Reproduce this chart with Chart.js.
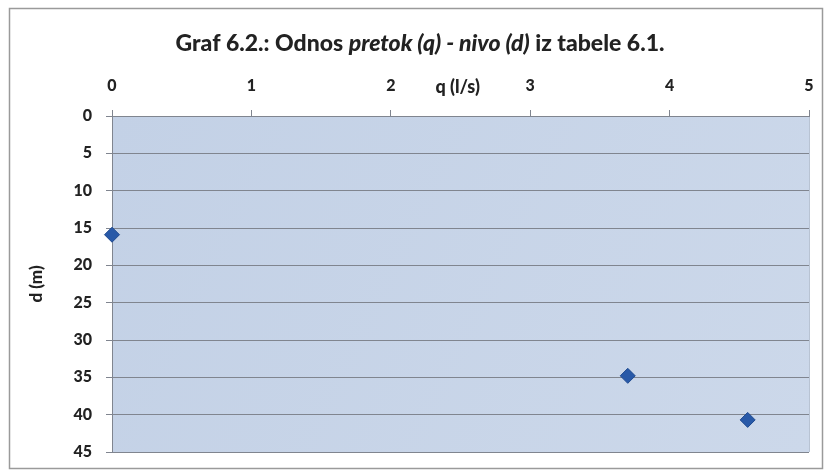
<!DOCTYPE html>
<html>
<head>
<meta charset="utf-8">
<script src="https://cdn.jsdelivr.net/npm/chart.js@4/dist/chart.umd.min.js"></script>
<style>
html,body{margin:0;padding:0;background:#fff;}
#wrap{width:827px;height:472px;position:relative;}
</style>
</head>
<body>
<div id="wrap"><canvas id="c" width="827" height="472"></canvas></div>
<script>
// Data
const qValues = [0, 3.70, 4.56];       // q (l/s)
const dValues = [15.9, 34.8, 40.7];    // d (m)
const xTicks = [0, 1, 2, 3, 4, 5];
const yTicks = [0, 5, 10, 15, 20, 25, 30, 35, 40, 45];
const titleParts = [
  {text: 'Graf 6.2.: Odnos ', italic: false},
  {text: 'pretok (q) - nivo (d)', italic: true},
  {text: ' iz tabele 6.1.', italic: false}
];
const xTitle = 'q (l/s)';
const yTitle = 'd (m)';

const FONT = 'Lato, "Open Sans", sans-serif';

const decor = {
  id: 'decor',
  beforeDraw(chart) {
    const ctx = chart.ctx;
    const a = chart.chartArea;
    ctx.save();
    ctx.fillStyle = '#ffffff';
    ctx.fillRect(0, 0, chart.width, chart.height);
    ctx.strokeStyle = '#9a9a9a';
    ctx.lineWidth = 1.5;
    ctx.strokeRect(9.5, 8.5, 813, 460);
    const g = ctx.createLinearGradient(a.left, a.top, a.right, a.bottom);
    g.addColorStop(0, '#c3d1e6');
    g.addColorStop(1, '#ccd8ea');
    ctx.fillStyle = g;
    ctx.fillRect(a.left, a.top, a.right - a.left, a.bottom - a.top);
    ctx.strokeStyle = '#b8c3d3';
    ctx.lineWidth = 1;
    ctx.beginPath();
    ctx.moveTo(a.right + 0.5, a.top);
    ctx.lineTo(a.right + 0.5, a.bottom);
    ctx.stroke();
    ctx.restore();
  },
  afterDraw(chart) {
    const ctx = chart.ctx;
    ctx.save();
    // Title with mixed styles
    const size = 23;
    let total = 0;
    const widths = titleParts.map(p => {
      ctx.font = (p.italic ? 'italic ' : '') + '900 ' + size + 'px ' + FONT;
      const w = ctx.measureText(p.text).width;
      total += w;
      return w;
    });
    let x = 420 - total / 2;
    ctx.fillStyle = '#222';
    ctx.textBaseline = 'middle';
    ctx.textAlign = 'left';
    titleParts.forEach((p, i) => {
      ctx.font = (p.italic ? 'italic ' : '') + '900 ' + size + 'px ' + FONT;
      ctx.fillText(p.text, x, 44);
      x += widths[i];
    });
    // x axis title, inline with tick labels
    const xs = chart.scales.x;
    ctx.font = '900 18px ' + FONT;
    ctx.textAlign = 'center';
    ctx.fillText(xTitle, xs.getPixelForValue(2.48), 87);
    ctx.restore();
  }
};

new Chart(document.getElementById('c'), {
  type: 'scatter',
  data: {
    datasets: [{
      data: qValues.map((q, i) => ({x: q, y: dValues[i]})),
      pointStyle: 'rectRot',
      pointRadius: 7.5,
      pointHoverRadius: 7.5,
      backgroundColor: '#2859a8',
      borderColor: '#1f4a90',
      borderWidth: 1,
      clip: false
    }]
  },
  options: {
    responsive: false,
    animation: false,
    layout: {padding: {left: 10, right: 18, top: 10, bottom: 20}},
    plugins: {legend: {display: false}, title: {display: false}, tooltip: {enabled: false}},
    scales: {
      x: {
        type: 'linear',
        position: 'top',
        min: 0, max: 5,
        afterBuildTicks(s) { s.ticks = xTicks.map(v => ({value: v})); },
        afterFit(s) { s.height = 106; s.paddingLeft = 0; s.paddingRight = 0; },
        ticks: {color: '#222', font: {family: FONT, size: 16, weight: '900'}, padding: 15, maxRotation: 0},
        grid: {drawOnChartArea: false, drawTicks: true, tickLength: 6, color: '#80858f'},
        border: {display: true, color: '#80858f'}
      },
      y: {
        type: 'linear',
        reverse: true,
        min: 0, max: 45,
        afterBuildTicks(s) { s.ticks = yTicks.map(v => ({value: v})); },
        afterFit(s) { s.width = 102; s.paddingTop = 0; s.paddingBottom = 0; },
        ticks: {color: '#222', font: {family: FONT, size: 16, weight: '900'}, padding: 14},
        grid: {color: '#80858f', lineWidth: 1, tickLength: 6},
        border: {display: true, color: '#80858f'},
        title: {display: true, text: yTitle, color: '#222', font: {family: FONT, size: 17, weight: '900'}, padding: {top: 16, bottom: 0}}
      }
    }
  },
  plugins: [decor]
});
</script>
</body>
</html>
